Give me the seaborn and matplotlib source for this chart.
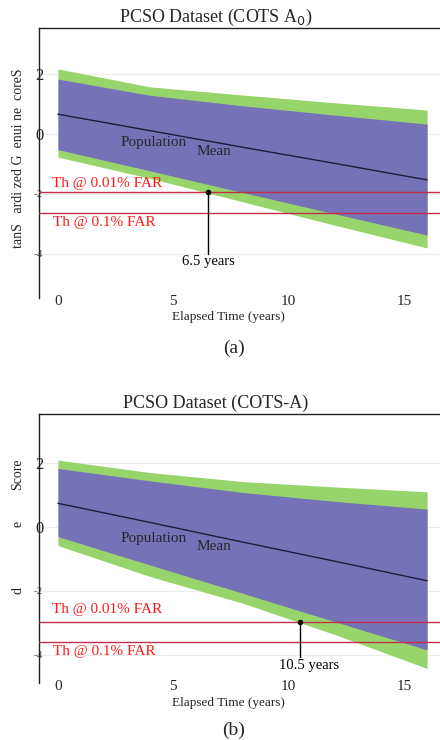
import numpy as np
import pandas as pd
import matplotlib
matplotlib.use("Agg")
import matplotlib.pyplot as plt
import seaborn as sns

# ---- data -------------------------------------------------------------
years = [0, 4, 8, 12, 16]

# COTS A0
a_outer_hi = [2.17, 1.57, 1.30, 1.04, 0.80]
a_inner_hi = [1.83, 1.29, 0.94, 0.63, 0.33]
a_mean     = [0.66, 0.11, -0.44, -0.98, -1.53]
a_inner_lo = [-0.52, -1.23, -1.95, -2.66, -3.37]
a_outer_lo = [-0.77, -1.48, -2.26, -3.04, -3.80]
a_th_001 = -1.94
a_th_01 = -2.62
a_cross_year = 6.5

# COTS-A
b_outer_hi = [2.09, 1.70, 1.42, 1.25, 1.10]
b_inner_hi = [1.83, 1.44, 1.08, 0.80, 0.56]
b_mean     = [0.74, 0.14, -0.47, -1.07, -1.68]
b_inner_lo = [-0.30, -1.19, -2.07, -2.96, -3.84]
b_outer_lo = [-0.58, -1.55, -2.38, -3.36, -4.42]
b_th_001 = -2.97
b_th_01 = -3.60
b_cross_year = 10.5

ytick_vals = [2, 0, -2, -4]
ytick_text = ["2", "0", "-2", "-4"]
xtick_vals = [0, 5, 10, 15]

# ---- style ------------------------------------------------------------
sns.set_theme(style="white")
plt.rcParams["font.family"] = ["Liberation Serif", "DejaVu Sans"]
plt.rcParams["mathtext.fontset"] = "dejavusans"

GREEN = "#98d46c"
BLUE = "#7672b8"
MEAN = "#1c1c3c"
RED_LINE = "#c0304a"
RED_TEXT = "#ff1a1a"

W, H = 440, 740
fig = plt.figure(figsize=(W / 100, H / 100), dpi=100)


def fx(px):
    return px / W


def fy(py):
    return 1 - py / H


def panel(top_px, bot_px, ylim, title, outer_hi, inner_hi, mean, inner_lo,
          outer_lo, th1, th2, cross, caption, cap_y, xlab_y, ylabel_parts,
          lbl1_y, lbl2_y, ann_end, ann_dx, pop_y, mean_y):
    left_px = 39
    ax = fig.add_axes([fx(left_px), fy(bot_px), 1 - fx(left_px),
                       (bot_px - top_px) / H])
    ax.set_xlim(-0.82, 16.56)
    ax.set_ylim(*ylim)

    for v in ytick_vals:
        ax.axhline(v, color="#ececec", lw=0.8, zorder=0)

    ax.fill_between(years, outer_lo, outer_hi, color=GREEN, lw=0, zorder=1)
    ax.fill_between(years, inner_lo, inner_hi, color=BLUE, lw=0, zorder=2)

    df = pd.DataFrame({"year": years, "score": mean})
    sns.lineplot(data=df, x="year", y="score", color=MEAN, lw=1.0, ax=ax,
                 zorder=3)

    ax.axhline(th1, color=RED_LINE, lw=1.0, zorder=4)
    ax.axhline(th2, color=RED_LINE, lw=1.0, zorder=4)

    # crossing marker and annotation
    ax.plot([cross, cross], [th1, ann_end], color="black", lw=1.0, zorder=5)
    ax.plot([cross], [th1], "o", color="black", ms=3, zorder=6)
    ax.text(cross + ann_dx, ann_end - 0.05, f"{cross} years", ha="center",
            va="top", fontsize=10.5, color="black")

    fig.text(fx(52), fy(lbl1_y), "Th @ 0.01% FAR", color=RED_TEXT,
             fontsize=11, ha="left", va="center")
    fig.text(fx(53), fy(lbl2_y), "Th @ 0.1% FAR", color=RED_TEXT,
             fontsize=11, ha="left", va="center")

    ax.text(4.16, pop_y, "Population", fontsize=11,
            ha="center", va="center", zorder=7)
    ax.text(6.77, mean_y, "Mean", fontsize=11,
            ha="center", va="center", zorder=7)

    ax.set_yticks(ytick_vals)
    ax.set_yticklabels(ytick_text)
    for lab, v in zip(ax.get_yticklabels(), ytick_vals):
        if v < 0:
            lab.set_fontsize(8)
            lab.set_color("#555555")
        else:
            lab.set_fontsize(12)
    ax.set_xticks(xtick_vals)
    ax.set_xticklabels([str(v) for v in xtick_vals], fontsize=11)
    ax.tick_params(axis="y", length=0, pad=-3)
    ax.tick_params(axis="x", length=0, pad=-2)
    ax.set_xlabel("")
    ax.set_ylabel("")

    for side in ("right", "bottom"):
        ax.spines[side].set_visible(False)
    for side in ("left", "top"):
        ax.spines[side].set_color("#222222")
        ax.spines[side].set_linewidth(1.0)

    fig.text(fx(216), fy(top_px - 11), title, fontsize=13, ha="center",
             va="center")
    fig.text(fx(228), fy(xlab_y), "Elapsed Time (years)", fontsize=9.5,
             ha="center", va="center")
    fig.text(fx(234), fy(cap_y), caption, fontsize=14, ha="center",
             va="center")
    for txt, py in ylabel_parts:
        fig.text(fx(18), fy(py), txt, rotation=90, fontsize=10,
                 ha="center", va="center")
    return ax


panel(28, 298, (-5.467, 3.533), r"PCSO Dataset (COTS A$_{0}$)",
      a_outer_hi, a_inner_hi, a_mean, a_inner_lo, a_outer_lo,
      a_th_001, a_th_01, a_cross_year, "(a)", 348, 317,
      [("tanS   ardi zed G  enui ne  coreS", 158)],
      183, 223, -4.0, 0.0, -0.30, -0.57)

panel(414, 683, (-4.875, 3.53), "PCSO Dataset (COTS-A)",
      b_outer_hi, b_inner_hi, b_mean, b_inner_lo, b_outer_lo,
      b_th_001, b_th_01, b_cross_year, "(b)", 730, 703,
      [("Score", 474), ("e", 524), ("d", 591)],
      610, 652, -4.06, 0.4, -0.375, -0.625)

fig.savefig("out.png", dpi=100)
